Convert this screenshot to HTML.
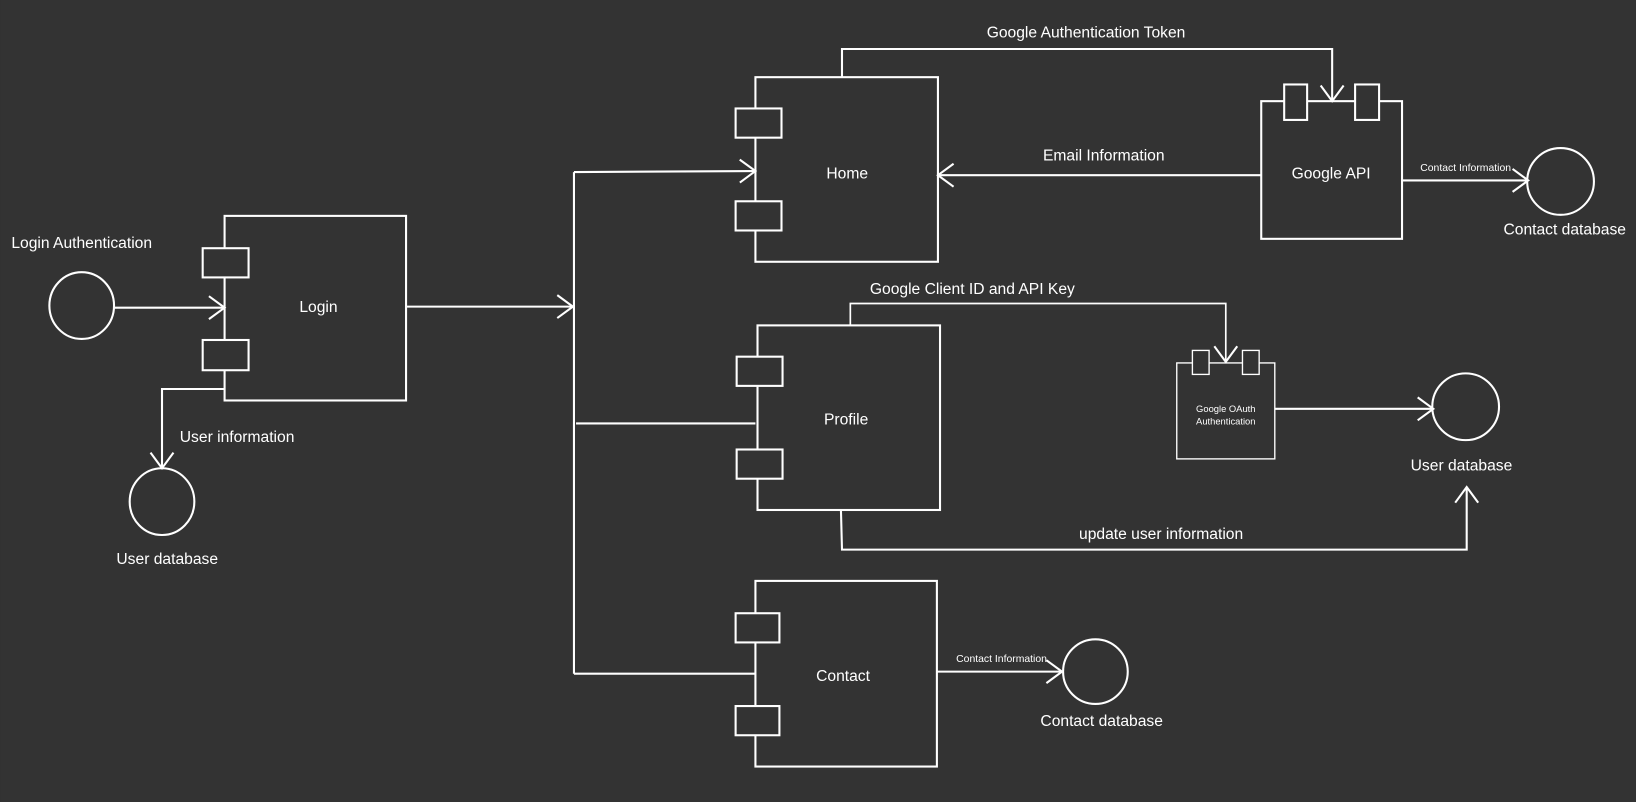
<!DOCTYPE html>
<html><head><meta charset="utf-8"><style>
html,body{margin:0;padding:0;background:#333333;}
svg{display:block;}
text{font-family:"Liberation Sans",sans-serif;fill:#fff;font-size:15px;text-anchor:middle;}
.s{font-size:10px;}
.o{font-size:9px;}
</style></head><body>
<svg width="1636" height="802" viewBox="0 0 1568 769" xmlns="http://www.w3.org/2000/svg">
<defs>
<marker id="a" markerWidth="22" markerHeight="24" refX="16" refY="12" orient="auto" markerUnits="userSpaceOnUse">
<path d="M1,1 L16,12 L1,23" fill="none" stroke="#fff" stroke-width="2"/>
</marker>
</defs>
<rect width="1568" height="769" fill="#333333"/>
<g fill="none" stroke="#fff" stroke-width="2">
<rect x="215" y="207" width="174" height="177"/>
<rect x="194" y="238" width="44" height="28" fill="#333"/>
<rect x="194" y="326" width="44" height="29" fill="#333"/>
<ellipse cx="78" cy="293" rx="31" ry="32"/>
<path d="M109,295 H215" marker-end="url(#a)"/>
<ellipse cx="155" cy="481" rx="31" ry="32"/>
<path d="M215,373 H155 V449" marker-end="url(#a)"/>
<path d="M389,294 H549" marker-end="url(#a)"/>
<path d="M550,165 V646"/>
<path d="M550,165 L724,164" marker-end="url(#a)"/>
<path d="M552,406 H724"/>
<path d="M550,646 H724"/>
<rect x="724" y="74" width="175" height="177"/>
<rect x="705" y="104" width="44" height="28" fill="#333"/>
<rect x="705" y="193" width="44" height="28" fill="#333"/>
<path d="M807,74 V47 H1277 V97" marker-end="url(#a)"/>
<rect x="1209" y="97" width="135" height="132"/>
<rect x="1231" y="81" width="22" height="34" fill="#333"/>
<rect x="1299" y="81" width="23" height="34" fill="#333"/>
<path d="M1209,168 H899" marker-end="url(#a)"/>
<path d="M1344,173 H1465" marker-end="url(#a)"/>
<circle cx="1496" cy="174" r="32"/>
<rect x="726" y="312" width="175" height="177"/>
<rect x="706" y="342" width="44" height="28" fill="#333"/>
<rect x="706" y="431" width="44" height="28" fill="#333"/>
<path d="M815,312 V291 H1175 V347" marker-end="url(#a)" stroke-width="1.6"/>
<rect x="1128" y="348" width="94" height="92" stroke-width="1.3"/>
<rect x="1143" y="336" width="16" height="23" fill="#333" stroke-width="1.3"/>
<rect x="1191" y="336" width="16" height="23" fill="#333" stroke-width="1.3"/>
<path d="M1222,392 H1374" marker-end="url(#a)"/>
<circle cx="1405" cy="390" r="32"/>
<path d="M806,489 L807,527 H1406 V467" marker-end="url(#a)"/>
<rect x="724" y="557" width="174" height="178"/>
<rect x="705" y="588" width="42" height="28" fill="#333"/>
<rect x="705" y="677" width="42" height="28" fill="#333"/>
<path d="M898,644 H1018" marker-end="url(#a)"/>
<circle cx="1050" cy="644" r="31"/>
</g>
<text x="305" y="299">Login</text>
<text x="78" y="238">Login Authentication</text>
<text x="160" y="541">User database</text>
<text x="227" y="424">User information</text>
<text x="812" y="171">Home</text>
<text x="1041" y="36">Google Authentication Token</text>
<text x="1276" y="171">Google API</text>
<text x="1058" y="154">Email Information</text>
<text class="s" x="1405" y="164">Contact Information</text>
<text x="1500" y="225">Contact database</text>
<text x="811" y="407">Profile</text>
<text x="932" y="282">Google Client ID and API Key</text>
<text class="o" x="1175" y="395">Google OAuth</text>
<text class="o" x="1175" y="407">Authentication</text>
<text x="1401" y="451">User database</text>
<text x="1113" y="517">update user information</text>
<text x="808" y="653">Contact</text>
<text class="s" x="960" y="635">Contact Information</text>
<text x="1056" y="696">Contact database</text>
</svg>
</body></html>
